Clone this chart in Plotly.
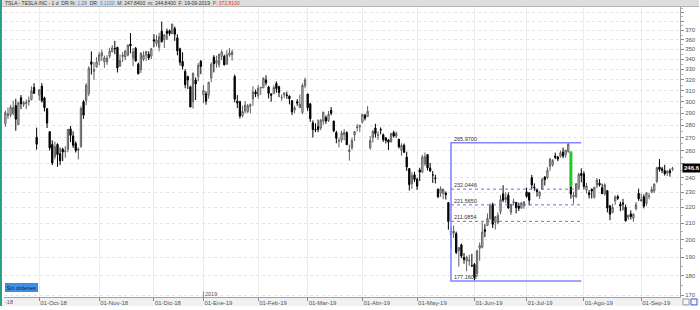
import math
import pandas as pd
import plotly.graph_objects as go

# ---------------- data ----------------
holidays = ['2018-11-22', '2018-12-05', '2018-12-25', '2019-01-01', '2019-01-21',
            '2019-02-18', '2019-04-19', '2019-05-27', '2019-07-04', '2019-09-02']
dates = pd.bdate_range('2018-09-10', '2019-09-19', freq='C',
                       holidays=holidays).strftime('%Y-%m-%d').tolist()

opens = [
    273.3, 279.5, 281.4, 288.0, 288.8, 290.0, 296.7, 280.5, 303.6, 297.7, 298.5, 300.0, 301.9, 312.9, 270.3,
    305.8, 314.0, 303.3, 294.0, 274.7, 264.5, 255.3, 264.6, 257.5, 261.0, 259.1, 260.8, 277.0, 271.3, 265.4, 260.0, 263.0, 300.0, 301.0, 307.3, 337.4, 328.0, 332.5,
    338.3, 343.3, 337.3, 337.2, 343.0, 347.6, 350.9, 352.0, 333.2, 342.7, 342.3, 344.0, 355.4, 341.0, 351.0, 335.0, 329.7, 340.0, 344.0, 345.0, 343.0,
    360.0, 356.0, 352.0, 369.0, 360.0, 369.0, 369.5, 366.4, 372.0, 362.0, 350.5, 337.6, 327.9, 323.0, 313.5, 300.0, 319.8, 323.1, 337.8,
    306.1, 307.0, 306.0, 321.7, 342.0, 335.9, 334.4, 342.8, 342.7, 335.0, 344.0, 344.5, 323.0, 300.5, 300.0, 288.0, 291.8, 291.5, 296.1, 302.5, 308.7,
    305.4, 312.5, 312.5, 319.9, 313.3, 306.8, 307.3, 316.6, 313.5, 303.4, 306.2, 306.0, 304.9, 301.0, 293.0, 300.0, 294.9, 290.7, 314.5,
    306.9, 298.1, 282.0, 276.5, 278.8, 277.8, 283.5, 286.5, 283.9, 292.5, 283.5, 274.0, 267.0, 268.0, 272.5, 274.0, 259.0, 262.0, 272.0, 278.0, 278.7,
    282.6, 288.3, 287.3, 261.9, 269.9, 277.7, 271.7, 276.5, 272.2, 269.8, 268.3, 266.5, 274.0, 271.2, 268.7, 260.2, 263.9, 255.0, 246.5, 235.9, 242.1,
    238.9, 245.5, 243.9, 250.0, 256.8, 246.9, 242.0, 239.8, 232.0, 229.3, 229.2, 229.4, 223.0, 202.5, 203.9, 203.6, 193.8, 197.0, 189.8, 187.9, 187.9, 185.3,
    186.0, 181.0, 195.0, 195.6, 206.0, 208.5, 213.0, 222.0, 210.7, 210.3, 217.2, 228.8, 225.0, 227.9, 216.8, 222.9, 223.2, 220.8, 219.5, 220.9,
    230.2, 229.6, 240.0, 233.5, 232.0, 227.4, 232.0, 240.5, 240.0, 248.0, 249.3, 255.7, 255.1, 255.7, 258.8, 256.7, 259.2, 233.5, 226.9, 227.1, 232.9, 243.0,
    242.7, 231.4, 229.6, 231.9, 226.5, 234.5, 236.1, 233.0, 228.8, 231.0, 220.9, 216.6, 224.2, 227.0, 222.0, 222.8, 220.0, 213.6, 215.7, 213.0, 219.0, 229.2,
    224.1, 226.9, 222.5, 227.2, 230.0, 230.8, 237.4, 247.7, 246.4, 245.0, 243.2, 245.0, 246.0,
]
highs = [
    286.0, 282.0, 292.5, 295.0, 297.3, 300.9, 302.6, 300.0, 306.0, 300.6, 302.0, 304.6, 313.9, 316.8, 278.0,
    311.4, 316.8, 304.6, 294.0, 274.9, 267.8, 266.8, 265.5, 262.3, 262.0, 263.3, 277.0, 279.3, 275.0, 267.0, 262.5, 296.0, 301.5, 316.9, 333.0, 347.8, 337.0, 342.0,
    347.2, 349.4, 343.5, 343.9, 351.5, 354.3, 358.8, 352.5, 344.7, 347.1, 348.6, 355.0, 367.2, 351.4, 352.4, 336.7, 347.0, 348.0, 348.0, 347.9, 351.5,
    366.0, 365.0, 367.4, 379.5, 366.0, 371.9, 371.0, 377.4, 374.2, 365.7, 351.6, 347.0, 330.1, 323.9, 314.5, 327.0, 322.2, 336.2, 339.2,
    315.1, 309.4, 318.0, 336.7, 344.0, 343.5, 345.4, 348.9, 344.6, 348.8, 351.2, 349.6, 325.0, 305.9, 300.9, 296.5, 300.5, 298.0, 298.6, 314.0, 310.9,
    315.0, 313.0, 322.4, 324.2, 314.3, 307.8, 314.8, 318.5, 314.5, 306.5, 308.0, 309.0, 305.7, 301.0, 296.5, 302.3, 306.3, 316.6, 322.0,
    307.1, 299.0, 284.0, 281.5, 284.7, 285.2, 291.3, 288.1, 292.0, 295.4, 283.7, 275.5, 270.0, 275.5, 276.8, 275.0, 264.5, 270.0, 275.0, 281.0, 280.2,
    289.2, 289.4, 296.2, 271.2, 276.1, 281.2, 275.0, 278.2, 273.3, 270.0, 268.7, 273.5, 275.5, 274.8, 269.0, 265.5, 265.3, 259.0, 246.7, 244.0, 244.2,
    240.0, 247.1, 256.6, 258.4, 257.2, 250.6, 244.8, 242.0, 232.5, 234.0, 232.4, 230.5, 223.5, 207.5, 208.5, 204.8, 195.5, 197.7, 192.3, 190.8, 191.4, 191.9,
    186.8, 194.2, 198.4, 210.5, 209.3, 216.0, 222.5, 223.0, 214.4, 216.8, 228.0, 234.7, 229.9, 229.8, 222.2, 225.6, 223.2, 223.0, 223.5, 224.0,
    233.1, 229.7, 242.0, 236.0, 232.0, 230.5, 240.0, 241.0, 247.5, 254.4, 253.5, 258.3, 255.8, 260.0, 262.2, 260.5, 266.0, 234.5, 230.3, 235.9, 243.4, 246.7,
    244.5, 236.3, 231.4, 232.5, 233.6, 239.8, 239.0, 235.8, 236.0, 231.5, 221.6, 222.2, 227.8, 228.2, 223.7, 225.5, 221.7, 215.0, 218.0, 216.0, 223.4, 232.4,
    229.0, 228.5, 229.8, 229.6, 233.8, 236.0, 247.8, 253.5, 247.7, 249.2, 245.0, 246.5, 247.8,
]
lows = [
    271.0, 273.6, 278.7, 285.2, 286.5, 288.1, 275.5, 280.5, 293.6, 295.4, 293.6, 296.5, 301.1, 307.0, 260.6,
    301.1, 299.2, 291.6, 277.7, 260.0, 249.0, 253.3, 247.8, 249.0, 252.0, 254.5, 258.6, 266.5, 262.0, 258.4, 253.2, 262.0, 285.3, 297.0, 305.0, 325.0, 320.0, 331.5,
    333.9, 338.3, 331.5, 334.4, 340.8, 346.8, 345.0, 326.9, 332.2, 337.2, 339.0, 343.0, 345.8, 333.0, 337.6, 325.1, 326.5, 338.0, 338.3, 339.2, 340.2,
    352.0, 353.0, 348.0, 357.0, 351.3, 360.0, 364.1, 366.0, 358.8, 343.9, 333.7, 329.7, 312.1, 311.5, 295.2, 294.1, 301.5, 318.4, 325.3,
    298.8, 297.4, 302.7, 317.8, 327.0, 331.5, 331.8, 339.0, 333.7, 334.5, 342.3, 338.6, 299.5, 294.4, 285.5, 286.5, 290.0, 290.0, 290.0, 296.5, 304.2,
    302.7, 306.1, 312.3, 314.7, 303.0, 300.0, 306.9, 308.0, 304.0, 301.1, 303.5, 302.6, 297.7, 288.5, 290.0, 296.4, 294.5, 289.2, 312.1,
    291.9, 282.8, 270.1, 274.4, 274.3, 275.9, 280.5, 281.1, 282.7, 288.3, 274.4, 265.5, 262.4, 266.0, 268.0, 264.0, 252.3, 260.5, 267.4, 275.0, 274.5,
    281.3, 283.9, 287.2, 260.6, 266.1, 270.0, 268.2, 272.6, 266.6, 265.4, 260.4, 266.5, 270.1, 269.5, 261.5, 256.0, 258.0, 244.8, 231.1, 232.2, 237.0,
    231.5, 237.7, 243.5, 248.5, 245.1, 244.2, 236.3, 236.0, 226.0, 226.8, 225.3, 225.1, 206.0, 195.1, 201.0, 191.7, 184.8, 189.5, 186.4, 182.3, 185.3, 184.8,
    177.2, 179.4, 188.0, 195.0, 201.5, 208.3, 212.0, 207.0, 206.1, 209.3, 215.5, 223.4, 222.8, 219.0, 215.0, 221.3, 216.1, 217.6, 219.1, 219.0,
    226.2, 221.2, 232.0, 231.0, 227.0, 225.5, 232.0, 234.5, 239.0, 244.9, 247.9, 253.4, 251.9, 254.6, 254.2, 254.5, 258.2, 225.6, 222.3, 226.0, 232.2, 236.7,
    231.8, 229.2, 225.8, 225.8, 225.8, 232.7, 233.8, 228.8, 227.6, 216.7, 211.8, 216.2, 221.6, 224.8, 217.5, 218.0, 211.0, 212.0, 212.2, 210.8, 218.0, 224.2,
    223.9, 219.3, 220.9, 225.2, 229.2, 229.4, 236.1, 244.3, 243.3, 241.5, 241.2, 240.7, 244.8,
]
closes = [
    285.5, 279.4, 290.5, 289.5, 295.2, 294.8, 285.0, 299.0, 298.3, 299.1, 299.7, 301.0, 309.6, 307.5, 264.8,
    310.7, 301.0, 294.8, 281.8, 262.0, 250.6, 262.8, 256.9, 252.2, 258.8, 259.6, 276.6, 271.8, 263.9, 260.0, 261.0, 294.1, 288.5, 314.9, 330.9, 334.9, 329.9, 337.3,
    344.3, 346.4, 341.4, 341.1, 348.2, 351.4, 350.5, 331.3, 338.7, 344.0, 348.4, 354.3, 353.5, 347.5, 338.2, 325.8, 346.0, 343.9, 347.9, 341.2, 350.5,
    358.5, 359.7, 363.1, 358.0, 365.2, 366.8, 366.6, 376.8, 365.7, 348.4, 337.0, 333.0, 315.4, 319.8, 295.4, 326.1, 316.1, 333.9, 332.8,
    310.1, 300.4, 317.7, 335.0, 335.4, 338.5, 345.0, 347.3, 334.4, 344.4, 346.1, 347.3, 302.3, 298.9, 287.6, 291.5, 297.0, 296.4, 297.5, 308.8, 307.0,
    312.2, 312.9, 321.4, 317.2, 307.5, 305.8, 312.8, 311.8, 308.2, 303.8, 307.9, 305.6, 302.6, 291.2, 294.7, 298.8, 297.9, 314.7, 319.9,
    294.8, 285.4, 276.5, 276.2, 276.6, 284.1, 290.9, 283.4, 289.0, 290.0, 275.4, 269.5, 267.5, 273.6, 274.0, 264.5, 260.4, 267.8, 274.8, 278.6, 279.9,
    289.2, 285.9, 291.8, 267.8, 275.0, 273.2, 272.3, 276.1, 268.4, 267.7, 266.4, 273.4, 271.2, 273.3, 262.8, 263.9, 258.7, 247.6, 235.1, 241.5, 238.7,
    234.0, 244.1, 255.0, 255.3, 247.1, 244.8, 242.0, 239.5, 227.0, 232.3, 232.0, 228.3, 211.0, 205.4, 205.1, 192.7, 195.5, 190.6, 188.7, 189.9, 188.2, 185.2,
    179.0, 193.6, 196.6, 204.5, 205.0, 212.9, 221.0, 209.3, 213.9, 214.9, 225.0, 224.7, 226.4, 219.6, 221.9, 223.6, 219.8, 219.3, 222.8, 223.5,
    227.2, 224.6, 234.9, 233.1, 230.3, 230.1, 238.9, 238.6, 245.1, 253.5, 252.4, 254.9, 253.5, 258.2, 255.7, 260.2, 264.9, 228.8, 228.0, 235.8, 242.3, 241.6,
    233.9, 234.3, 228.3, 230.8, 233.4, 238.3, 235.0, 229.0, 235.0, 219.6, 215.6, 219.9, 226.8, 225.9, 220.8, 222.2, 211.4, 215.0, 214.1, 215.6, 221.7, 225.6,
    225.0, 220.7, 229.6, 227.5, 231.8, 235.5, 247.1, 245.9, 245.2, 242.8, 244.8, 243.5, 246.6,
]
assert len(dates) == len(opens) == len(highs) == len(lows) == len(closes), (len(dates), len(opens), len(highs), len(lows), len(closes))

month_ticks = ['2018-10-01', '2018-11-01', '2018-12-03', '2019-01-02', '2019-02-01', '2019-03-01',
               '2019-04-01', '2019-05-01', '2019-06-03', '2019-07-01', '2019-08-01', '2019-09-03']
month_labels = ['01-Oct-18', '01-Nov-18', '01-Dic-18', '01-Ene-19', '01-Feb-19', '01-Mar-19',
                '01-Abr-19', '01-May-19', '01-Jun-19', '01-Jul-19', '01-Ago-19', '01-Sep-19']
price_ticks = [170, 180, 190, 200, 210, 220, 230, 240, 250, 260, 270, 280, 290, 300,
               310, 320, 330, 340, 350, 360, 370, 380, 390]
price_labels = [str(v) if v <= 370 and v != 250 else '' for v in price_ticks]

fib_high = 265.97
fib_low = 177.16
fib_levels = [232.0446, 221.5650, 211.0854]
fib_start = '2019-05-20'
fib_end = '2019-07-31'

gap_date = '2019-07-25'
gap_top = 259.3
gap_bottom = 233.6

last_price = 246.6
header_text = ('TSLA - TESLA INC - 1 d &nbsp;DR.%: <span style="color:#3b7fd9">1.28</span> '
               '&nbsp;DR: <span style="color:#3b7fd9">3.1100</span> &nbsp;M: 247.8400 &nbsp;m: 244.8400 '
               '&nbsp;F: 19-09-2019 &nbsp;<span style="color:#e03030">P: 372.8100</span>')

# ---------------- layout geometry ----------------
W, H = 700, 310
ML, MR, MT, MB = 4, 19, 7, 9
PW, PH = W - ML - MR, H - MT - MB


def px(xp):
    return (xp - ML) / PW


def py(yp):
    return (H - MB - yp) / PH


FONT = 'Liberation Sans, Arial, sans-serif'

fig = go.Figure()

fig.add_trace(go.Candlestick(
    x=dates, open=opens, high=highs, low=lows, close=closes,
    increasing=dict(line=dict(color='#5e5e5e', width=1), fillcolor='#e2e2e2'),
    decreasing=dict(line=dict(color='#000000', width=1), fillcolor='#000000'),
    whiskerwidth=0, showlegend=False, hoverinfo='skip'))

# gap highlight
fig.add_trace(go.Scatter(x=[gap_date, gap_date], y=[gap_top, gap_bottom], mode='lines',
                         line=dict(color='#22c722', width=3), showlegend=False, hoverinfo='skip'))

# fibonacci box
fig.add_trace(go.Scatter(x=[fib_end, fib_start, fib_start, fib_end],
                         y=[fib_high, fib_high, fib_low, fib_low], mode='lines',
                         line=dict(color='#8585ff', width=1.6), showlegend=False, hoverinfo='skip'))
for lv in fib_levels:
    fig.add_trace(go.Scatter(x=[fib_start, fib_end], y=[lv, lv], mode='lines',
                             line=dict(color='#6a6aff', width=1, dash='dot'),
                             showlegend=False, hoverinfo='skip'))
for lv in [fib_high] + fib_levels + [fib_low]:
    fig.add_annotation(x=fib_start, y=math.log10(lv), xref='x', yref='y', text=f'{lv:.4f}',
                       showarrow=False, xanchor='left', yanchor='bottom', xshift=1, yshift=-1,
                       font=dict(family=FONT, size=5.5, color='#333333'))

i_first = dates.index('2018-10-01')
i_last = len(dates) - 1
ppd = (673.5 - 39.3) / (i_last - i_first)
x_lo = i_first - (39.3 - ML) / ppd
x_hi = i_last + (W - MR - 673.5) / ppd

ppdec = (299.0 - 30.7) / math.log10(370 / 170)
y_top = math.log10(370) + (30.7 - MT) / ppdec
y_bot = y_top - PH / ppdec

fig.update_xaxes(type='category', range=[x_lo, x_hi], tickmode='array',
                 tickvals=month_ticks, ticktext=month_labels, ticks='outside', ticklen=3,
                 tickcolor='#8a8a8a', tickfont=dict(family=FONT, size=6, color='#555555'),
                 ticklabelposition='outside right', showgrid=True, gridcolor='#ececec',
                 gridwidth=1, showline=True, linecolor='#a0a0a0', linewidth=1,
                 rangeslider=dict(visible=False), zeroline=False, fixedrange=True)
fig.update_yaxes(type='log', side='right', range=[y_bot, y_top], tickmode='array',
                 tickvals=price_ticks, ticktext=price_labels, ticks='outside', ticklen=3,
                 tickcolor='#8a8a8a', tickfont=dict(family=FONT, size=6, color='#555555'),
                 showgrid=True, gridcolor='#e4e4e4', griddash='dot', gridwidth=1,
                 showline=True, linecolor='#a0a0a0', linewidth=1, zeroline=False,
                 minor=dict(tickvals=[v + 5 for v in price_ticks], ticks='outside', ticklen=2,
                            tickcolor='#b0b0b0', showgrid=False))

shapes = []
# header bar
shapes.append(dict(type='rect', xref='paper', yref='paper', x0=px(0), x1=px(W), y0=py(6.5), y1=py(0),
                   fillcolor='#dedede', line=dict(width=0), layer='below'))
shapes.append(dict(type='line', xref='paper', yref='paper', x0=px(0), x1=px(W), y0=py(6.5), y1=py(6.5),
                   line=dict(color='#b5b5b5', width=1)))
# bottom strip
shapes.append(dict(type='rect', xref='paper', yref='paper', x0=px(0), x1=px(W), y0=py(H), y1=py(301.5),
                   fillcolor='#f1f1f1', line=dict(width=0), layer='below'))
# left teal border
shapes.append(dict(type='rect', xref='paper', yref='paper', x0=px(0), x1=px(2), y0=py(H), y1=py(0),
                   fillcolor='#2f9e86', line=dict(width=0)))
# year tick
shapes.append(dict(type='line', xref='x', yref='paper', x0='2019-01-02', x1='2019-01-02',
                   y0=py(301.5), y1=py(295.5), line=dict(color='#8a8a8a', width=1)))
# bottom right icons
shapes.append(dict(type='rect', xref='paper', yref='paper', x0=px(684), x1=px(690), y0=py(309), y1=py(303),
                   fillcolor='#f8f8f8', line=dict(color='#9a9a9a', width=1)))
shapes.append(dict(type='rect', xref='paper', yref='paper', x0=px(692), x1=px(698), y0=py(309), y1=py(303),
                   fillcolor='#f8f8f8', line=dict(color='#3c5fd8', width=1)))
fig.update_layout(shapes=shapes)

fig.add_annotation(xref='paper', yref='paper', x=px(3), y=py(3.4), text=header_text, showarrow=False,
                   xanchor='left', yanchor='middle', font=dict(family=FONT, size=5, color='#333333'))
fig.add_annotation(xref='x', yref='paper', x='2019-01-02', y=py(297.5), text='2019', showarrow=False,
                   xanchor='left', yanchor='middle', xshift=0, font=dict(family=FONT, size=5.5, color='#555555'))
fig.add_annotation(xref='paper', yref='paper', x=px(2.5), y=py(305.8), text='-18', showarrow=False,
                   xanchor='left', yanchor='middle', font=dict(family=FONT, size=5.5, color='#555555'))
fig.add_annotation(xref='paper', yref='paper', x=px(5), y=py(291), text='Sin órdenes', showarrow=False,
                   xanchor='left', yanchor='middle', bgcolor='#3f8fe6', bordercolor='#2a64b0',
                   borderwidth=0.5, borderpad=1, font=dict(family=FONT, size=5.5, color='#10233f'))
fig.add_annotation(xref='paper', yref='y', x=1, y=math.log10(last_price), text=f'<b>{last_price:.1f}</b>',
                   showarrow=False, xanchor='left', yanchor='middle', xshift=2, bgcolor='#000000',
                   borderpad=1, font=dict(family=FONT, size=6, color='#ffffff'))

fig.update_layout(width=W, height=H, margin=dict(l=ML, r=MR, t=MT, b=MB),
                  paper_bgcolor='#ffffff', plot_bgcolor='#ffffff', showlegend=False,
                  hovermode=False)

fig.write_html('out.html', include_plotlyjs=True, config={'displayModeBar': False})
